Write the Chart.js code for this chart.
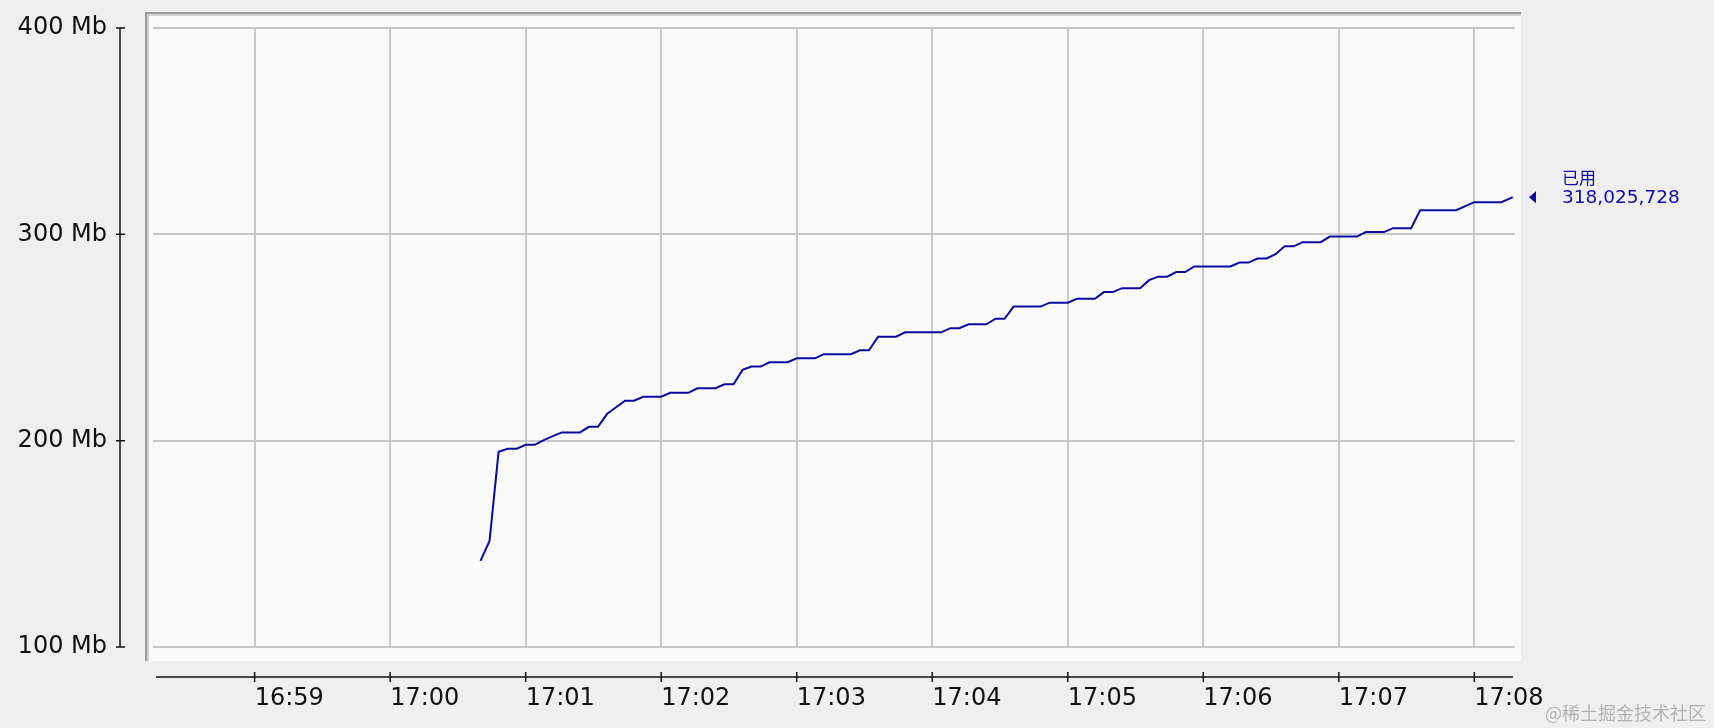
<!DOCTYPE html>
<html>
<head>
<meta charset="utf-8">
<title>已用内存</title>
<script src="https://cdn.jsdelivr.net/npm/chart.js@4"></script>
<style>
  html, body { margin: 0; padding: 0; background: #efefef; }
  #memChart { display: block; }
</style>
</head>
<body>
<canvas id="memChart" width="1714" height="728"></canvas>
<script>
// sample times (corners of the stepped line) and used heap in Mb (10^6 bytes)
const sampleTimes = [
  '17:00:40', '17:00:44', '17:00:48', '17:00:52', '17:00:56', '17:01:00', '17:01:04', '17:01:08',
  '17:01:12', '17:01:16', '17:01:24', '17:01:28', '17:01:32', '17:01:36', '17:01:40', '17:01:44',
  '17:01:48', '17:01:52', '17:02:00', '17:02:04', '17:02:12', '17:02:16', '17:02:24', '17:02:28',
  '17:02:32', '17:02:36', '17:02:40', '17:02:44', '17:02:48', '17:02:56', '17:03:00', '17:03:08',
  '17:03:12', '17:03:24', '17:03:28', '17:03:32', '17:03:36', '17:03:44', '17:03:48', '17:04:04',
  '17:04:08', '17:04:12', '17:04:16', '17:04:24', '17:04:28', '17:04:32', '17:04:36', '17:04:48',
  '17:04:52', '17:05:00', '17:05:04', '17:05:12', '17:05:16', '17:05:20', '17:05:24', '17:05:32',
  '17:05:36', '17:05:40', '17:05:44', '17:05:48', '17:05:52', '17:05:56', '17:06:12', '17:06:16',
  '17:06:20', '17:06:24', '17:06:28', '17:06:32', '17:06:36', '17:06:40', '17:06:44', '17:06:52',
  '17:06:56', '17:07:08', '17:07:12', '17:07:20', '17:07:24', '17:07:32', '17:07:36', '17:07:52',
  '17:07:56', '17:08:00', '17:08:12', '17:08:17'
];
const usedMb = [
  141.7, 151.4, 194.6, 196.1, 196.1, 198.0, 198.0, 200.3,
  202.2, 204.0, 204.0, 206.7, 206.7, 212.9, 216.2, 219.4,
  219.4, 221.3, 221.3, 223.2, 223.2, 225.4, 225.4, 227.3,
  227.3, 234.3, 235.9, 235.9, 238.0, 238.0, 239.9, 239.9,
  241.9, 241.9, 243.8, 243.8, 250.4, 250.4, 252.5, 252.5,
  254.5, 254.5, 256.4, 256.4, 259.1, 259.1, 265.0, 265.0,
  266.9, 266.9, 268.8, 268.8, 272.0, 272.0, 273.9, 273.9,
  277.8, 279.5, 279.5, 281.7, 281.7, 284.4, 284.4, 286.3,
  286.3, 288.3, 288.3, 290.4, 294.2, 294.2, 296.2, 296.2,
  298.9, 298.9, 301.1, 301.1, 303.0, 303.0, 311.7, 311.7,
  313.7, 315.6, 315.6, 318.025728
];

// axis ticks
const timeTicks = ['16:59', '17:00', '17:01', '17:02', '17:03', '17:04', '17:05', '17:06', '17:07', '17:08'];
const mbTicks = [100, 200, 300, 400];
const windowStart = '16:58:15';
const windowEnd = '17:08:18';

const seriesName = '已用';
const watermark = '@稀土掘金技术社区';

function toSec(t) {
  const p = t.split(':').map(Number);
  return p[0] * 3600 + p[1] * 60 + (p[2] || 0);
}

const lineColor = '#0a0aa0';
const labelFont = { family: 'DejaVu Sans', size: 24 };

// panel, detached axes, end-of-line label and watermark
const decorPlugin = {
  id: 'decor',
  beforeDraw(chart) {
    const { ctx, chartArea: a } = chart;
    ctx.save();
    ctx.fillStyle = '#efefef';
    ctx.fillRect(0, 0, chart.width, chart.height);
    // plot panel
    const pl = a.left - 8, pt = a.top - 16, pr = a.right + 6, pb = a.bottom + 14;
    ctx.fillStyle = '#fafafa';
    ctx.fillRect(pl, pt, pr - pl, pb - pt);
    ctx.fillStyle = '#9c9c9c';
    ctx.fillRect(pl, pt, 2, pb - pt);
    ctx.fillRect(pl, pt, pr - pl, 2);
    ctx.fillStyle = '#d2d2d2';
    ctx.fillRect(pl + 2, pt + 2, 2, pb - pt - 2);
    ctx.fillRect(pl + 2, pt + 2, pr - pl - 2, 2);
    ctx.restore();
  },
  afterDraw(chart) {
    const { ctx, chartArea: a } = chart;
    const xs = chart.scales.x, ys = chart.scales.y;
    ctx.save();
    ctx.strokeStyle = '#111';
    ctx.lineWidth = 1.5;
    // y axis
    const ax = a.left - 33;
    ctx.beginPath();
    ctx.moveTo(ax, ys.getPixelForValue(mbTicks[mbTicks.length - 1]));
    ctx.lineTo(ax, ys.getPixelForValue(mbTicks[0]));
    mbTicks.forEach(v => {
      const y = ys.getPixelForValue(v);
      ctx.moveTo(ax - 4, y);
      ctx.lineTo(ax + 5, y);
    });
    ctx.stroke();
    // x axis
    const ay = a.bottom + 30;
    ctx.beginPath();
    ctx.moveTo(a.left + 3, ay);
    ctx.lineTo(a.right - 2, ay);
    xs.ticks.forEach(t => {
      const x = xs.getPixelForValue(t.value);
      ctx.moveTo(x, ay - 5);
      ctx.lineTo(x, ay + 5);
    });
    ctx.stroke();

    // end-of-line marker
    const last = usedMb[usedMb.length - 1];
    const ly = ys.getPixelForValue(last);
    const tx = a.right + 14;
    ctx.fillStyle = lineColor;
    ctx.beginPath();
    ctx.moveTo(tx, ly);
    ctx.lineTo(tx + 7, ly - 6);
    ctx.lineTo(tx + 7, ly + 6);
    ctx.closePath();
    ctx.fill();
    ctx.fillStyle = '#0d0da8';
    ctx.textAlign = 'left';
    ctx.textBaseline = 'middle';
    ctx.font = '17px "Noto Sans CJK SC"';
    ctx.fillText(seriesName, a.right + 47, ly - 20);
    ctx.font = '18.5px "DejaVu Sans"';
    ctx.fillText(Math.round(last * 1e6).toLocaleString('en-US'), a.right + 47, ly + 1);

    // watermark
    ctx.fillStyle = '#b3b3b3';
    ctx.textAlign = 'right';
    ctx.font = '18px "Noto Sans CJK SC"';
    ctx.fillText(watermark, chart.width - 8, chart.height - 15);
    ctx.restore();
  }
};

const ctx = document.getElementById('memChart');
new Chart(ctx, {
  type: 'line',
  data: {
    datasets: [{
      label: seriesName,
      data: sampleTimes.map((t, i) => ({ x: toSec(t), y: usedMb[i] })),
      borderColor: lineColor,
      borderWidth: 2,
      pointRadius: 0,
      tension: 0,
      fill: false
    }]
  },
  options: {
    responsive: false,
    animation: false,
    devicePixelRatio: 1,
    layout: { padding: { top: 28, right: 199, bottom: 0, left: 0 } },
    plugins: { legend: { display: false }, tooltip: { enabled: false } },
    scales: {
      x: {
        type: 'linear',
        min: toSec(windowStart),
        max: toSec(windowEnd),
        afterBuildTicks(scale) {
          scale.ticks = timeTicks.map(t => ({ value: toSec(t) }));
        },
        afterFit(scale) {
          scale.height = 81;
          scale.paddingLeft = 0;
          scale.paddingRight = 0;
        },
        grid: { color: '#c8c8c8', lineWidth: 2, drawTicks: false },
        border: { display: false },
        ticks: {
          autoSkip: false,
          maxRotation: 0,
          align: 'start',
          padding: 37,
          color: '#111',
          font: labelFont,
          callback: (v, i) => timeTicks[i]
        }
      },
      y: {
        min: mbTicks[0],
        max: mbTicks[mbTicks.length - 1],
        afterBuildTicks(scale) {
          scale.ticks = mbTicks.map(v => ({ value: v }));
        },
        afterFit(scale) {
          scale.width = 153;
          scale.paddingTop = 0;
          scale.paddingBottom = 0;
        },
        grid: { color: '#c8c8c8', lineWidth: 2, drawTicks: false },
        border: { display: false },
        ticks: {
          padding: 46,
          color: '#111',
          font: labelFont,
          callback: v => v + ' Mb'
        }
      }
    }
  },
  plugins: [decorPlugin]
});
</script>
</body>
</html>
